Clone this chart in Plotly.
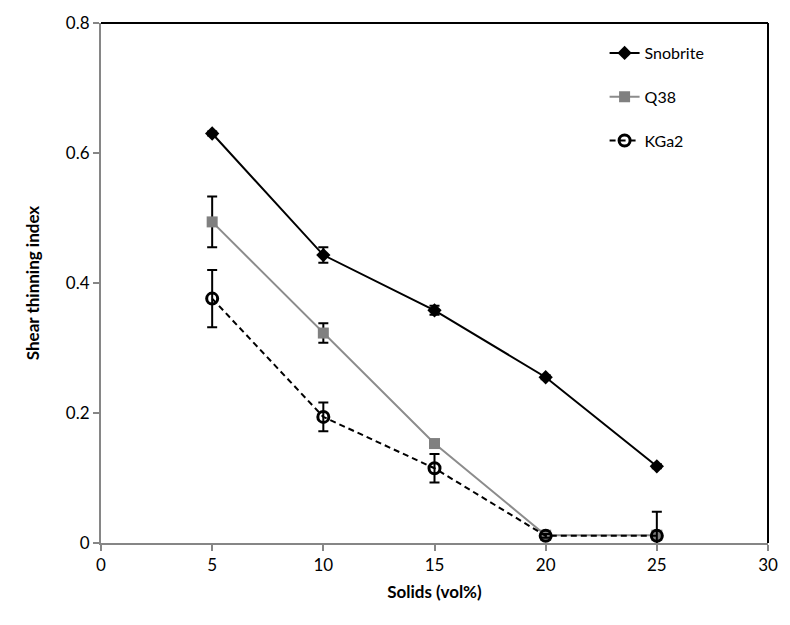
import plotly.graph_objects as go

solids = [5, 10, 15, 20, 25]

snobrite = [0.630, 0.443, 0.358, 0.255, 0.118]
snobrite_err = [0.003, 0.012, 0.007, 0.003, 0.003]

q38 = [0.494, 0.323, 0.153, 0.012, 0.012]
q38_err = [0.039, 0.015, 0.005, 0.004, 0.004]

kga2 = [0.376, 0.194, 0.115, 0.011, 0.011]
kga2_err = [0.044, 0.022, 0.022, 0.003, 0.037]

x_ticks = [0, 5, 10, 15, 20, 25, 30]
y_ticks = [0, 0.2, 0.4, 0.6, 0.8]

FONT = "Lato, 'Open Sans', sans-serif"

fig = go.Figure()

fig.add_trace(go.Scatter(
    x=solids, y=snobrite, name="Snobrite", mode="lines+markers",
    legendgroup="a",
    line=dict(color="black", width=2),
    marker=dict(symbol="diamond", size=11, color="black"),
    error_y=dict(type="data", array=snobrite_err, color="black", thickness=2, width=5),
))
fig.add_trace(go.Scatter(
    x=solids, y=q38, name="Q38", mode="lines+markers",
    legendgroup="b",
    line=dict(color="#8c8c8c", width=2),
    marker=dict(symbol="square", size=11, color="#808080"),
    error_y=dict(type="data", array=q38_err, color="black", thickness=2, width=5),
))
fig.add_trace(go.Scatter(
    x=solids, y=kga2, name="KGa2", mode="lines+markers",
    legendgroup="c",
    line=dict(color="black", width=2, dash="6px,4px"),
    marker=dict(symbol="circle-open", size=11, color="black", line=dict(width=3, color="black")),
    error_y=dict(type="data", array=kga2_err, color="black", thickness=2, width=5),
))

fig.add_shape(type="line", xref="x domain", yref="y domain", x0=0, x1=1, y0=1, y1=1,
              line=dict(color="black", width=2))
fig.add_shape(type="line", xref="x domain", yref="y domain", x0=1, x1=1, y0=0, y1=1,
              line=dict(color="black", width=2))

fig.update_layout(
    width=790, height=625,
    margin=dict(l=101, r=17, t=23, b=82),
    paper_bgcolor="white", plot_bgcolor="white",
    font=dict(family=FONT, size=17, color="black"),
    showlegend=True,
    legend=dict(
        x=0.755, y=0.975, xanchor="left", yanchor="top",
        bgcolor="rgba(0,0,0,0)", font=dict(size=16),
        traceorder="grouped", tracegroupgap=20,
    ),
    xaxis=dict(
        range=[0, 30], tickvals=x_ticks, ticktext=[str(v) for v in x_ticks],
        showgrid=False, zeroline=False,
        showline=True, linecolor="#868686", linewidth=2,
        ticks="outside", ticklen=6, tickcolor="#868686", tickwidth=2,
        tickfont=dict(size=17),
        title=dict(text="<b>Solids (vol%)</b>", font=dict(size=17), standoff=12),
    ),
    yaxis=dict(
        range=[0, 0.8], tickvals=y_ticks, ticktext=["0", "0.2", "0.4", "0.6", "0.8"],
        showgrid=False, zeroline=False,
        showline=True, linecolor="#868686", linewidth=2,
        ticks="outside", ticklen=6, tickcolor="#868686", tickwidth=2,
        tickfont=dict(size=17),
        title=dict(text="<b>Shear thinning index</b>", font=dict(size=17), standoff=22),
    ),
)

fig.write_html("out.html")
